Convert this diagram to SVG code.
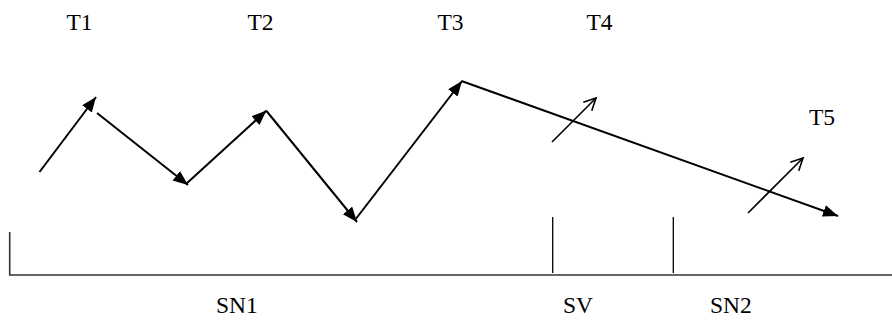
<svg xmlns="http://www.w3.org/2000/svg" width="892" height="329" viewBox="0 0 892 329">
<style>
  text { font-family: "Liberation Serif", "Times New Roman", serif; font-size: 23.5px; fill: #000; }
  .main { stroke: #000; stroke-width: 2; fill: none; }
  .thin { stroke: #000; stroke-width: 1.6; fill: none; }
  .tick { stroke: #000; stroke-width: 1.3; fill: none; }
  .base { stroke: #333; stroke-width: 1.6; fill: none; }
</style>
<defs>
  <marker id="fa" markerUnits="userSpaceOnUse" markerWidth="18" markerHeight="14" refX="15" refY="6" orient="auto">
    <path d="M0,0 L15,6 L0,12 z" fill="#000"/>
  </marker>
  <marker id="oa" markerUnits="userSpaceOnUse" markerWidth="16" markerHeight="14" refX="13" refY="6.5" orient="auto">
    <path d="M1,0.5 L13,6.5 L1,12.5" fill="none" stroke="#000" stroke-width="1.6"/>
  </marker>
</defs>
<g id="labels">
  <text x="66.5" y="30">T1</text>
  <text x="247.5" y="30">T2</text>
  <text x="437.5" y="30">T3</text>
  <text x="586.5" y="30">T4</text>
  <text x="809" y="125">T5</text>
  <text x="216" y="313">SN1</text>
  <text x="563" y="313">SV</text>
  <text x="710" y="313">SN2</text>
</g>
<g id="connectors">
  <line class="main" x1="39.5" y1="172" x2="96" y2="97" marker-end="url(#fa)"/>
  <line class="main" x1="97" y1="113" x2="188" y2="185" marker-end="url(#fa)"/>
  <line class="main" x1="186" y1="184" x2="266.5" y2="110.5" marker-end="url(#fa)"/>
  <line class="main" x1="266.5" y1="111" x2="357" y2="222" marker-end="url(#fa)"/>
  <line class="main" x1="355" y1="220" x2="462" y2="81" marker-end="url(#fa)"/>
  <line class="main" x1="461.5" y1="81" x2="838" y2="216" marker-end="url(#fa)"/>
  <line class="thin" x1="552" y1="142" x2="596" y2="98" marker-end="url(#oa)"/>
  <line class="thin" x1="748" y1="213" x2="803" y2="158" marker-end="url(#oa)"/>
</g>
<g id="axis">
  <polyline class="base" points="9.7,232 9.7,275 892,275"/>
  <line class="tick" x1="552.7" y1="217" x2="552.7" y2="273"/>
  <line class="tick" x1="673.3" y1="217" x2="673.3" y2="273"/>
</g>
</svg>
